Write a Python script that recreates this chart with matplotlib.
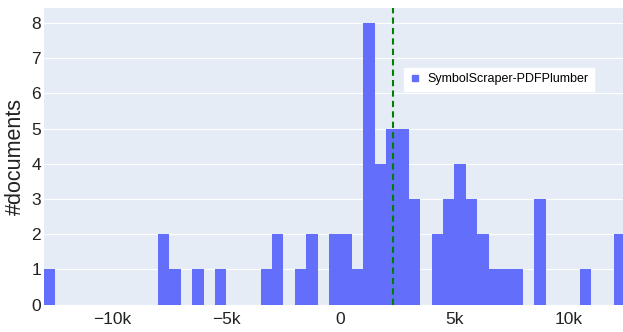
import numpy as np
import matplotlib
matplotlib.use('Agg')
import matplotlib.pyplot as plt
from matplotlib.lines import Line2D

plt.rcParams['font.family'] = ['Liberation Sans', 'DejaVu Sans']

# histogram bins (left edge), width 500, only the non-empty ones
bin_starts = [-13000, -8000, -7500, -6500, -5500, -3500, -3000, -2000, -1500,
              -500, 0, 500, 1000, 1500, 2000, 2500, 3000, 4000, 4500, 5000,
              5500, 6000, 6500, 7000, 7500, 8500, 10500, 12000]
counts = [1, 2, 1, 1, 1, 1, 2, 1, 2,
          2, 2, 1, 8, 4, 5, 5, 3, 2, 3, 4,
          3, 2, 1, 1, 1, 3, 1, 2]
bin_width = 500
mean_line = 2290
series_name = 'SymbolScraper-PDFPlumber'
xticks = [-10000, -5000, 0, 5000, 10000]
xtick_labels = ['\u221210k', '\u22125k', '0', '5k', '10k']

fig = plt.figure(figsize=(6.23, 3.32), dpi=100)
ax = fig.add_axes([44 / 623, 1 - 304.7 / 332, 581.4 / 623, 296.4 / 332])
ax.set_facecolor('#E5ECF6')

ax.bar(bin_starts, counts, width=bin_width, align='edge', color='#636EFA',
       linewidth=0, zorder=2)
ax.axvline(mean_line, color='green', ls=(0, (3, 2)), lw=1.5, zorder=3)

ax.set_xlim(-13000, 12500)
ax.set_ylim(0, 8.42)
ax.set_xticks(xticks)
ax.set_xticklabels(xtick_labels)
ax.set_yticks(range(0, 9))
ax.grid(axis='y', color='white', lw=0.8, zorder=1)
ax.set_axisbelow(True)
for s in ax.spines.values():
    s.set_visible(False)
ax.tick_params(length=0, labelsize=12.5, colors='#222222')
ax.tick_params(axis='x', pad=5)
ax.tick_params(axis='y', pad=2)
ax.set_ylabel('#documents', fontsize=15.5, color='#222222', labelpad=4)

handle = Line2D([], [], marker='s', ls='', color='#636EFA', markersize=5)
leg = ax.legend([handle], [series_name], loc='upper left',
                bbox_to_anchor=(404 / 623, 1 - 67.7 / 332),
                bbox_transform=fig.transFigure, borderaxespad=0,
                fontsize=9, frameon=True, fancybox=False,
                handlelength=0.8, handletextpad=0.6, borderpad=0.45)
leg.get_frame().set_facecolor('white')
leg.get_frame().set_edgecolor('white')
leg.get_frame().set_alpha(1)

fig.savefig('out.png', dpi=100)
